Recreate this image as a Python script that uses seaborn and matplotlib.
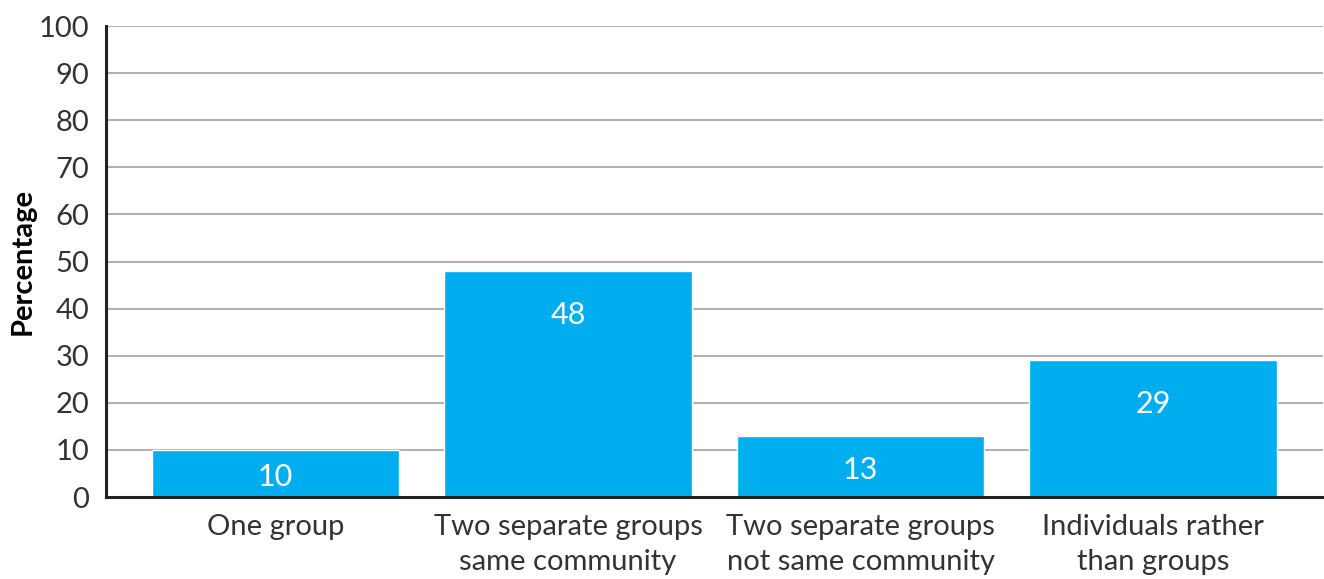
import pandas as pd
import matplotlib
matplotlib.use("Agg")
import matplotlib.pyplot as plt
import seaborn as sns

categories = ["One group", "Two separate groups\nsame community",
              "Two separate groups\nnot same community", "Individuals rather\nthan groups"]
values = [10, 48, 13, 29]
yticks = [0, 10, 20, 30, 40, 50, 60, 70, 80, 90, 100]

df = pd.DataFrame({"category": categories, "value": values})

sns.set_style("white")
plt.rcParams["font.family"] = ["Lato", "DejaVu Sans"]
text_col = "#333333"

fig = plt.figure(figsize=(13.24, 5.79), dpi=100)
ax = fig.add_axes([0.080, 0.1416, 0.919, 0.8134])

sns.barplot(x="category", y="value", data=df, color="#00AEEF", saturation=1,
            width=0.845, ax=ax, zorder=3)

ax.set_ylim(0, 100)
ax.set_xlim(-0.58, 3.58)
ax.set_yticks(yticks)
ax.yaxis.grid(True, color="#9a9a9a", linewidth=1.1, zorder=0)
ax.set_axisbelow(True)

for s in ["top", "right"]:
    ax.spines[s].set_visible(False)
for s in ["left", "bottom"]:
    ax.spines[s].set_color("#222222")
    ax.spines[s].set_linewidth(2.2)
    ax.spines[s].set_zorder(5)

ax.tick_params(axis="y", length=0, labelsize=21, colors=text_col, pad=12)
ax.tick_params(axis="x", length=0, labelsize=21, colors=text_col, pad=12)
for lbl in ax.get_xticklabels():
    lbl.set_linespacing(1.45)

ax.set_xlabel("")
ax.set_ylabel("Percentage", fontsize=21, fontweight="bold", color="black")
ax.yaxis.set_label_coords(-0.058, 0.5)

# value labels inside the bars
for i, v in enumerate(values):
    y = v - 9.3 if v > 20 else v / 2 - 0.8
    ax.text(i, y, str(v), ha="center", va="center", color="white", fontsize=22, zorder=6)

plt.savefig("out.png", dpi=100)
